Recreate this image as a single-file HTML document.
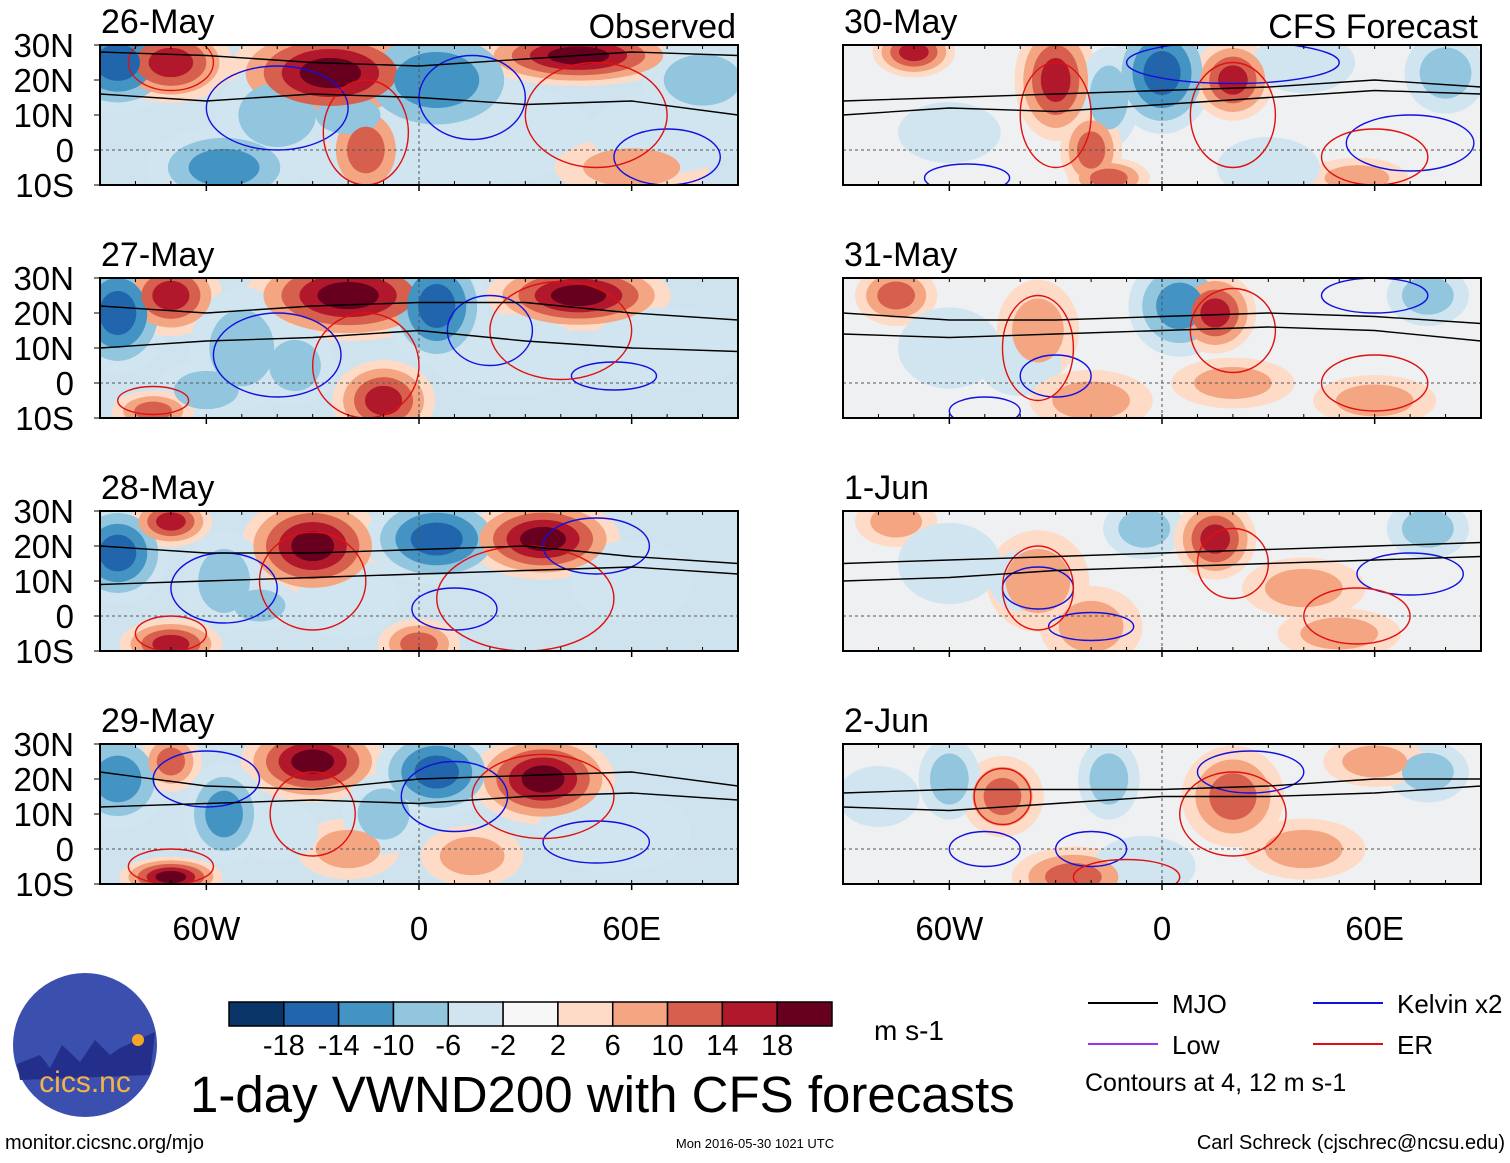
<!DOCTYPE html>
<html><head><meta charset="utf-8"><style>
html,body{margin:0;padding:0;background:#fff;}
body{width:1510px;height:1158px;overflow:hidden;font-family:"Liberation Sans",sans-serif;}
svg text{font-family:"Liberation Sans",sans-serif;}
</style></head><body>
<svg id="chart" width="1510" height="1158" viewBox="0 0 1510 1158" xmlns="http://www.w3.org/2000/svg"></svg>
<script>
// ---- data ----
const panelTitles = ["26-May","27-May","28-May","29-May","30-May","31-May","1-Jun","2-Jun"];
const latTicks = ["30N","20N","10N","0","10S"];
const latValues = [30,20,10,0,-10];
const lonTicks = ["60W","0","60E"];
const lonValues = [-60,0,60];
const levelLabels = ["-18","-14","-10","-6","-2","2","6","10","14","18"];
const binColors = ["#0a3569","#2166ac","#4393c3","#92c5de","#d1e5f0","#f7f7f7","#fddbc7","#f4a582","#d6604d","#b2182b","#67001f"];
// anomaly blobs per panel: [lon, lat, lonRadius, latRadius, value]
const blobs0 = [[-85,25,12,10,-18],[-70,25,12,8,14],[-25,22,20,10,18],[5,20,18,12,-14],[45,27,20,6,18],[80,20,12,8,-10],[-55,-5,15,8,-14],[-40,10,12,10,-10],[-15,0,8,10,10],[20,5,20,10,-6],[-20,10,10,6,-8],[60,-5,15,6,6],[-5,-5,20,6,-6],[70,5,15,8,-6]];
const blobs1 = [[-85,20,10,12,-18],[-70,25,10,8,14],[-20,25,20,9,18],[5,22,10,12,-18],[45,25,18,7,18],[-50,10,10,12,-10],[-60,-2,10,6,-8],[-10,-5,10,8,14],[-75,-8,8,4,10],[25,8,15,8,-6],[70,10,15,8,-6],[-35,5,8,8,-8]];
const blobs2 = [[-85,18,10,10,-18],[-70,27,8,5,14],[-30,20,14,10,18],[5,22,14,9,-18],[35,22,15,8,18],[-55,10,8,10,-8],[-70,-8,10,5,14],[-20,5,10,8,-6],[0,-8,8,5,10],[60,10,12,8,-6],[-45,3,8,5,-8]];
const blobs3 = [[-85,20,10,10,-14],[-70,25,6,6,10],[-30,25,14,8,18],[5,22,12,9,-18],[35,20,14,9,18],[-55,10,8,10,-12],[-70,-8,10,4,18],[-20,0,10,6,6],[-40,5,8,6,-6],[15,-2,10,6,6],[55,5,15,8,-6],[-10,10,8,8,-8]];
const blobs4 = [[-70,28,8,5,14],[-30,20,8,12,14],[0,22,10,12,-18],[20,20,8,8,14],[-15,15,6,10,-10],[-20,0,6,8,10],[-15,-8,8,4,10],[40,25,10,6,-6],[80,22,8,8,-10],[55,-8,10,4,6],[-60,5,10,6,-6],[30,-5,10,6,-6]];
const blobs5 = [[-75,25,8,6,10],[-35,15,8,10,6],[5,22,10,10,-14],[15,20,8,8,14],[-40,5,8,6,-6],[-20,-5,12,6,6],[60,-5,12,5,6],[75,25,8,6,-10],[20,0,12,5,6],[-60,10,10,8,-6]];
const blobs6 = [[-75,27,8,5,6],[-35,10,10,10,6],[-5,25,8,6,-10],[15,22,8,8,14],[-40,10,6,6,-6],[-20,-3,10,8,6],[50,-5,12,5,6],[75,25,8,6,-8],[-60,15,10,8,-6],[40,8,12,6,6]];
const blobs7 = [[-45,15,8,8,10],[-60,20,6,8,-8],[-15,20,6,8,-8],[20,15,10,10,10],[-25,-8,12,6,10],[75,22,8,6,-10],[60,25,10,5,6],[40,0,12,6,6],[-5,-5,10,6,-6],[-80,15,8,6,-6]];
const panelBlobs = [blobs0,blobs1,blobs2,blobs3,blobs4,blobs5,blobs6,blobs7];
// MJO contour lats sampled at lonSamples
const lonSamples = [-90,-60,-30,0,30,60,90];
const mjoA = [[28,27,25,24,26,28,27],[22,20,22,23,23,20,18],[20,18,18,19,20,17,15],[22,18,17,20,21,22,18],[14,15,16,17,18,20,18],[20,18,18,19,20,19,17],[15,16,17,18,19,20,21],[16,17,17,17,18,20,20]];
const mjoB = [[16,14,16,15,13,14,10],[10,12,13,15,12,10,9],[9,10,11,12,13,14,12],[12,13,14,13,15,16,14],[10,12,11,13,15,17,16],[14,13,14,15,16,15,12],[10,11,13,14,15,16,17],[12,11,13,15,15,16,18]];
// Kelvin (blue) and ER (red) contour ellipses: [lon, lat, lonR, latR]
const kelvinRings = [[[-40,12,20,12],[15,15,15,12],[70,-2,15,8]],[[-40,8,18,12],[20,15,12,10],[55,2,12,4]],[[-55,8,15,10],[10,2,12,6],[50,20,15,8]],[[-60,20,15,8],[10,15,15,10],[50,2,15,6]],[[20,25,30,6],[70,2,18,8],[-55,-8,12,4]],[[-30,2,10,6],[-50,-8,10,4],[60,25,15,5]],[[-35,8,10,6],[-20,-3,12,4],[70,12,15,6]],[[-50,0,10,5],[-20,0,10,5],[25,22,15,6]]];
const erRings = [[[-70,25,12,8],[-15,5,12,15],[50,10,20,15]],[[-15,5,15,15],[40,15,20,14],[-75,-5,10,4]],[[-30,10,15,14],[30,5,25,15],[-70,-5,10,5]],[[-30,10,12,12],[35,15,20,12],[-70,-5,12,5]],[[-30,10,10,15],[20,10,12,15],[60,-2,15,8]],[[-35,10,10,15],[20,15,12,12],[60,0,15,8]],[[-35,8,10,12],[20,15,10,10],[55,0,15,8]],[[-45,15,8,8],[20,10,15,12],[-10,-8,15,5]]];

// ---- helpers ----
const svg = document.getElementById('chart');
const NS = 'http://www.w3.org/2000/svg';
function mk(tag, attrs, parent){const e=document.createElementNS(NS,tag);for(const k in attrs)e.setAttribute(k,attrs[k]);(parent||svg).appendChild(e);return e;}
function binOf(v){const edges=[-18,-14,-10,-6,-2,2,6,10,14,18];let b=0;while(b<10&&v>=edges[b])b++;return b;}
const PW=638, PH=140, GROW=1.45;
const panelX=[100,100,100,100,843,843,843,843];
const panelY=[45,278,511,744,45,278,511,744];

for(let p=0;p<8;p++){
  const x0=panelX[p], y0=panelY[p];
  const xs=lon=>x0+(lon+90)/180*PW;
  const ys=lat=>y0+(30-lat)/40*PH;
  const g=mk('g',{});
  
  
  const cid='clip'+p;
  const cp=mk('clipPath',{id:cid},g);
  mk('rect',{x:x0,y:y0,width:PW,height:PH},cp);
  const inner=mk('g',{'clip-path':'url(#'+cid+')'},g);
  mk('rect',{x:x0,y:y0,width:PW,height:PH,fill:p<4?'#cfe3ef':'#eef0f2'},inner);
  const rings=[];
  panelBlobs[p].forEach(b=>{
    const target=binOf(b[4]);
    const steps=[];
    if(target<5){for(let i=4;i>=target;i--)steps.push(i);}else{for(let i=6;i<=target;i++)steps.push(i);}
    steps.forEach((bin,k)=>{
      const f=GROW*(1-k/(steps.length+0.7));
      rings.push({k:k,cx:xs(b[0]),cy:ys(b[1]),rx:b[2]*f*PW/180,ry:b[3]*f*PH/40,bin:bin});
    });
  });
  rings.sort((a,b)=>a.k-b.k);
  rings.forEach(r=>{
    const el=mk('ellipse',{cx:r.cx,cy:r.cy,rx:r.rx,ry:r.ry,fill:binColors[r.bin]},inner);
    
    
  });
  mk('line',{x1:x0,x2:x0+PW,y1:ys(0),y2:ys(0),stroke:'#555','stroke-dasharray':'3,3','stroke-width':1},inner);
  mk('line',{x1:xs(0),x2:xs(0),y1:y0,y2:y0+PH,stroke:'#555','stroke-dasharray':'3,3','stroke-width':1},inner);
  kelvinRings[p].forEach(r=>{const e=mk('ellipse',{cx:xs(r[0]),cy:ys(r[1]),rx:r[2]*PW/180,ry:r[3]*PH/40,fill:'none',stroke:'#1010e0','stroke-width':1.4},inner);});
  erRings[p].forEach(r=>{const e=mk('ellipse',{cx:xs(r[0]),cy:ys(r[1]),rx:r[2]*PW/180,ry:r[3]*PH/40,fill:'none',stroke:'#e01010','stroke-width':1.4},inner);});
  [mjoA[p],mjoB[p]].forEach(arr=>{
    const pts=lonSamples.map((lo,i)=>xs(lo)+','+ys(arr[i])).join(' ');
    const l=mk('polyline',{points:pts,fill:'none',stroke:'#000','stroke-width':1.4},inner);
    
    
  });
  mk('rect',{x:x0,y:y0,width:PW,height:PH,fill:'none',stroke:'#000','stroke-width':2},g);
  for(let lo=-90;lo<=90;lo+=10){mk('line',{x1:xs(lo),x2:xs(lo),y1:y0,y2:y0+4,stroke:'#000'},g);mk('line',{x1:xs(lo),x2:xs(lo),y1:y0+PH,y2:y0+PH-4,stroke:'#000'},g);}
  lonValues.forEach(lo=>{mk('line',{x1:xs(lo),x2:xs(lo),y1:y0+PH,y2:y0+PH+6,stroke:'#000','stroke-width':1.5},g);});
  const t=mk('text',{x:x0+1,y:y0-12,'font-size':34,fill:'#000'},g);t.textContent=panelTitles[p];
  
  if(p<4){latValues.forEach((la,i)=>{const tt=mk('text',{x:x0-26,y:ys(la)+12,'font-size':33,'text-anchor':'end',fill:'#000'},g);tt.textContent=latTicks[i];mk('line',{x1:x0-6,x2:x0,y1:ys(la),y2:ys(la),stroke:'#000'},g);});}
  if(p===3||p===7){lonValues.forEach((lo,i)=>{const tt=mk('text',{x:xs(lo),y:y0+PH+56,'font-size':33,'text-anchor':'middle',fill:'#000'},g);tt.textContent=lonTicks[i];});}
}
const ob=mk('text',{x:736,y:38,'font-size':34,'text-anchor':'end'});ob.textContent='Observed';

const cf=mk('text',{x:1478,y:38,'font-size':34,'text-anchor':'end'});cf.textContent='CFS Forecast';


const cb=mk('g',{});
const cbx=229, cbw=603/11;
binColors.forEach((c,i)=>mk('rect',{x:cbx+i*cbw,y:1002,width:cbw,height:24,fill:c,stroke:'#000','stroke-width':1.5},cb));
levelLabels.forEach((l,i)=>{const t=mk('text',{x:cbx+(i+1)*cbw,y:1055,'font-size':29,'text-anchor':'middle'},cb);t.textContent=l;});
const un=mk('text',{x:874,y:1040,'font-size':28});un.textContent='m s-1';

const ti=mk('text',{x:190,y:1112,'font-size':51});ti.textContent='1-day VWND200 with CFS forecasts';


const lg=mk('g',{});
[['MJO','#000',1088,1003],['Kelvin x2','#1010e0',1313,1003],['Low','#a030f0',1088,1044],['ER','#e01010',1313,1044]].forEach(e=>{
  mk('line',{x1:e[2],x2:e[2]+70,y1:e[3],y2:e[3],stroke:e[1],'stroke-width':2},lg);
  const t=mk('text',{x:e[2]+84,y:e[3]+10,'font-size':26},lg);t.textContent=e[0];
});
const ct=mk('text',{x:1085,y:1091,'font-size':25});ct.textContent='Contours at 4, 12 m s-1';


const lo=mk('g',{});
mk('circle',{cx:85,cy:1045,r:72,fill:'#3a4fae'},lo);
mk('path',{d:'M17,1064 L40,1055 L50,1068 L62,1045 L80,1062 L95,1040 L110,1055 L120,1048 L155,1032 L150,1075 L20,1080Z',fill:'#232f8a'},lo);
mk('circle',{cx:138,cy:1040,r:6,fill:'#f5a623'},lo);
const lt=mk('text',{x:85,y:1092,'font-size':30,'text-anchor':'middle',fill:'#f3b24b'},lo);lt.textContent='cics.nc';

const f1=mk('text',{x:5,y:1149,'font-size':20});f1.textContent='monitor.cicsnc.org/mjo';

const f2=mk('text',{x:755,y:1148,'font-size':13,'text-anchor':'middle'});f2.textContent='Mon 2016-05-30 1021 UTC';

const f3=mk('text',{x:1505,y:1149,'font-size':20,'text-anchor':'end'});f3.textContent='Carl Schreck (cjschrec@ncsu.edu)';

</script>
</body></html>
